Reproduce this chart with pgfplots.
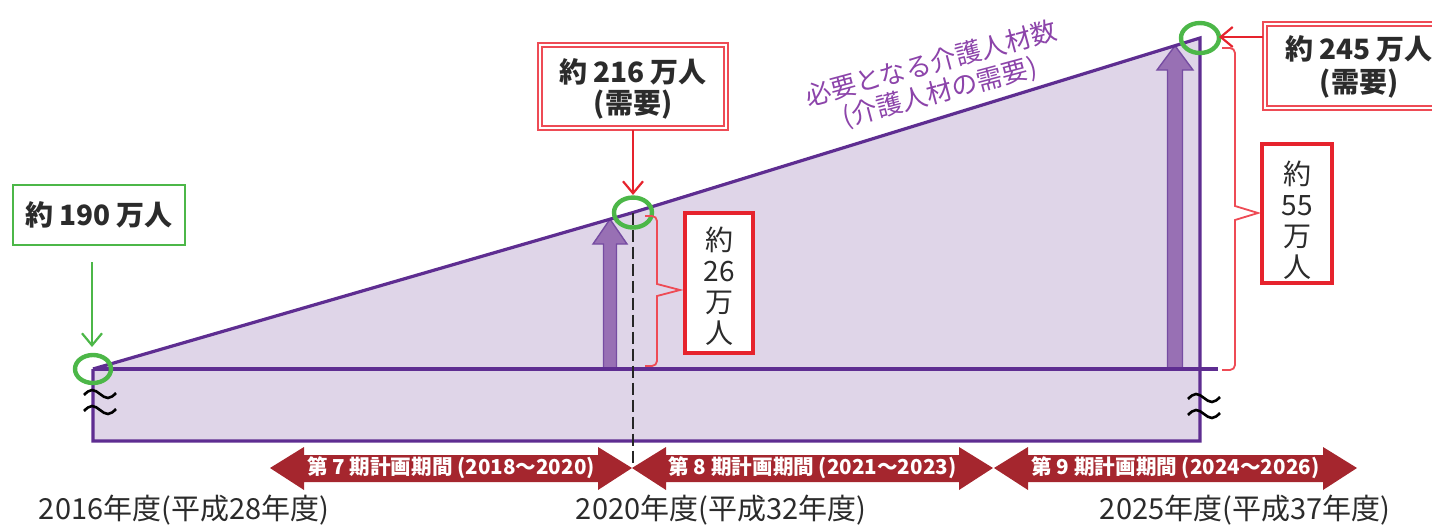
\documentclass[border=0pt]{standalone}
\usepackage{pgfplots}
\pgfplotsset{compat=1.18}
\usepackage{fontspec}
\setmainfont{Noto Sans CJK JP}
\usetikzlibrary{arrows.meta}
\definecolor{areafill}{HTML}{DFD5E8}
\definecolor{purpline}{HTML}{5E2D91}
\definecolor{arrowfill}{HTML}{9870B4}
\definecolor{grn}{HTML}{4CB748}
\definecolor{redbox}{HTML}{E6232D}
\definecolor{pinkred}{HTML}{EE4B55}
\definecolor{darkred}{HTML}{A5262E}
\definecolor{purtext}{HTML}{8C44AA}
\definecolor{txt}{HTML}{2B2B2B}
\newcommand{\tildeat}[2]{\draw[black, line width=1.3pt] (#1-16,#2+1) sin (#1-8,#2-4) cos (#1,#2) sin (#1+8,#2+4) cos (#1+16,#2-1);}
\newcommand{\periodarrow}[3]{%
  \fill[darkred] (#1,468) -- (#1+34,447) -- (#1+34,455) -- (#2-34,455) -- (#2-34,447) -- (#2,468) -- (#2-34,490) -- (#2-34,482) -- (#1+34,482) -- (#1+34,490) -- cycle;
  \node[white, font=\bfseries\fontsize{10.3pt}{12pt}\selectfont, inner sep=0] at ({(#1+#2)/2},468) {#3};}
\begin{document}
\begin{tikzpicture}
\begin{axis}[
  at={(0,0)}, anchor=south west,
  width=716pt, height=263.5pt, scale only axis,
  hide axis, clip=false,
  xmin=0, xmax=1432, ymin=163.746, ymax=251.316,
]
% shaded demand area
\addplot[fill=areafill, draw=none] coordinates {(93,178.04) (93,190) (633,216) (1200,245) (1200,178.04)} -- cycle;
% block arrows (increase)
\addplot[fill=arrowfill, draw=purpline!85, line width=0.7pt] coordinates {(603.5,190) (603.5,210.77) (593,210.77) (610,214.89) (627,210.77) (616.5,210.77) (616.5,190)} -- cycle;
\addplot[fill=arrowfill, draw=purpline!85, line width=0.7pt] coordinates {(1167.5,190) (1167.5,239.68) (1157,239.68) (1175,243.72) (1193,239.68) (1182.5,239.68) (1182.5,190)} -- cycle;
% outline
\addplot[purpline, line width=1.6pt] coordinates {(93,190) (93,178.04) (1200,178.04) (1200,245) (633,216) (93,190)};
\addplot[purpline, line width=1.6pt] coordinates {(93,190) (1218,190)};
% dashed line at 2020
\draw[black!85, line width=1.4pt, dash pattern=on 6pt off 2.5pt] (axis cs:633,216) -- (axis cs:633,174.38);
% highlight circles
\draw[grn, line width=2.2pt] (axis cs:93,190) ellipse [x radius=9pt, y radius=7pt];
\draw[grn, line width=2.2pt] (axis cs:633,216) ellipse [x radius=9.5pt, y radius=7.5pt];
\draw[grn, line width=2.2pt] (axis cs:1200,245) ellipse [x radius=9.5pt, y radius=7.5pt];
\end{axis}
\begin{scope}[x=0.5pt, y=-0.5pt, yshift=263.5pt]
% squiggles
\tildeat{100}{394}
\tildeat{100}{410}
\tildeat{1204}{398}
\tildeat{1204}{414}
% green box
\draw[grn, line width=1.3pt, fill=white] (13,185) rectangle (185,245);
\node[txt, font=\bfseries\fontsize{14pt}{16pt}\selectfont, inner sep=0] at (99,215) {約 190 万人};
\draw[grn, line width=1.1pt, -{Straight Barb[length=6pt,width=10pt]}] (92,262) -- (92,347);
% middle double box
\draw[pinkred, line width=0.6pt, fill=white] (538,43) rectangle (728,130);
\draw[pinkred, line width=1pt] (542,47) rectangle (724,126);
\node[txt, font=\bfseries\fontsize{14pt}{16pt}\selectfont, inner sep=0] at (633,72) {約 216 万人};
\node[txt, font=\bfseries\fontsize{14pt}{16pt}\selectfont, inner sep=0] at (633,105) {(需要)};
\draw[redbox, line width=1.1pt, -{Straight Barb[length=6pt,width=10pt]}] (633,130) -- (633,195);
% right double box
\draw[pinkred, line width=0.6pt, fill=white] (1263,22) rectangle (1470,110);
\draw[pinkred, line width=1pt] (1267,26) rectangle (1466,106);
\node[txt, font=\bfseries\fontsize{14pt}{16pt}\selectfont, inner sep=0] at (1359,49) {約 245 万人};
\node[txt, font=\bfseries\fontsize{14pt}{16pt}\selectfont, inner sep=0] at (1359,84) {(需要)};
\draw[redbox, line width=1.1pt, -{Straight Barb[length=6pt,width=10pt]}] (1263,37) -- (1219,37);
% braces
\draw[pinkred, line width=0.9pt] [rounded corners=2.5pt] (645,216) -- (657,216) [sharp corners] -- (657,284) -- (680,290) -- (657,296) [rounded corners=2.5pt] -- (657,366) -- (645,366);
\draw[pinkred, line width=0.9pt] [rounded corners=2.5pt] (1222,48) -- (1235,48) [sharp corners] -- (1235,206) -- (1258,213) -- (1235,220) [rounded corners=2.5pt] -- (1235,370) -- (1222,370);
% increase boxes
\draw[redbox, line width=1.6pt, fill=white] (685,213) rectangle (753,353);
\node[txt, align=center, font=\fontsize{14pt}{15.5pt}\selectfont, inner sep=0] at (719,286) {約\\26\\万\\人};
\draw[redbox, line width=1.6pt, fill=white] (1262,144) rectangle (1332,283);
\node[txt, align=center, font=\fontsize{14pt}{15.5pt}\selectfont, inner sep=0] at (1297,220) {約\\55\\万\\人};
% demand label
\node[purtext, rotate=15, font=\fontsize{13pt}{15pt}\selectfont, inner sep=0] at (931,63) {必要となる介護人材数};
\node[purtext, rotate=15, font=\fontsize{13pt}{15pt}\selectfont, inner sep=0] at (940,93) {(介護人材の需要)};
% planning periods
\periodarrow{270}{632}{第 7 期計画期間 (2018～2020)}
\periodarrow{632}{993}{第 8 期計画期間 (2021～2023)}
\periodarrow{994}{1357}{第 9 期計画期間 (2024～2026)}
% year labels
\node[txt, font=\fontsize{14.5pt}{16pt}\selectfont, inner sep=0] at (184,510) {2016年度(平成28年度)};
\node[txt, font=\fontsize{14.5pt}{16pt}\selectfont, inner sep=0] at (721,510) {2020年度(平成32年度)};
\node[txt, font=\fontsize{14.5pt}{16pt}\selectfont, inner sep=0] at (1245,510) {2025年度(平成37年度)};
\end{scope}
\pgfresetboundingbox
\path[use as bounding box] (0,0) rectangle (716pt,263.5pt);
\end{tikzpicture}
\end{document}
